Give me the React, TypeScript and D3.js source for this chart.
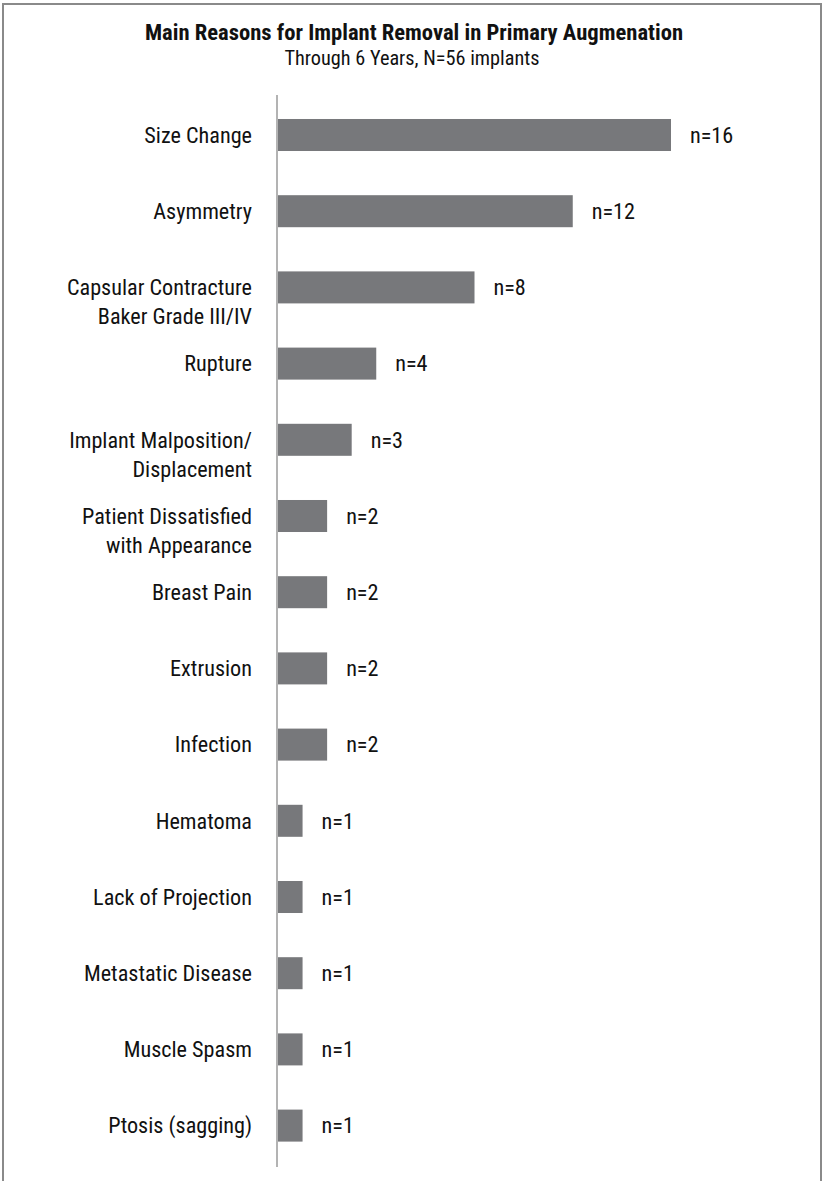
import React from "react";
import * as d3 from "d3";

const categories: string[][] = [
  ["Size Change"],
  ["Asymmetry"],
  ["Capsular Contracture", "Baker Grade III/IV"],
  ["Rupture"],
  ["Implant Malposition/", "Displacement"],
  ["Patient Dissatisfied", "with Appearance"],
  ["Breast Pain"],
  ["Extrusion"],
  ["Infection"],
  ["Hematoma"],
  ["Lack of Projection"],
  ["Metastatic Disease"],
  ["Muscle Spasm"],
  ["Ptosis (sagging)"],
];
const values: number[] = [16, 12, 8, 4, 3, 2, 2, 2, 2, 1, 1, 1, 1, 1];
const valueLabels: string[] = values.map((v) => `n=${v}`);
const title = "Main Reasons for Implant Removal in Primary Augmenation";
const subtitle = "Through 6 Years, N=56 implants";

const W = 824;
const H = 1181;
const FONT = "'Liberation Sans Narrow', 'Arial Narrow', 'Roboto Condensed', sans-serif";

export default function App() {
  const keys = categories.map((c) => c.join(" "));
  const y = d3
    .scaleBand<string>()
    .domain(keys)
    .range([96.9, 1163.7])
    .paddingInner(0.58)
    .paddingOuter(0.29);
  const x = d3.scaleLinear().domain([0, 16]).range([278, 671]);
  const bw = y.bandwidth();

  return (
    <svg
      width={W}
      height={H}
      style={{ position: "absolute", left: 0, top: 0, background: "#fff" }}
      fontFamily={FONT}
    >
      <rect x={3} y={4} width={818} height={1200} fill="none" stroke="#8a8a8a" strokeWidth={2} />
      <text x={414} y={40} textAnchor="middle" fontSize={22.6} fontWeight="bold" fill="#111">
        {title}
      </text>
      <text x={412} y={65} textAnchor="middle" fontSize={20.3} fill="#111">
        {subtitle}
      </text>
      {categories.map((c, i) => {
        const k = keys[i];
        const cy = (y(k) as number) + bw / 2;
        return (
          <g key={k}>
            <rect x={x(0)} y={y(k)} width={x(values[i]) - x(0)} height={bw} fill="#77787b" />
            {c.map((line, j) => (
              <text
                key={j}
                x={252}
                y={cy + j * 29}
                dy="0.35em"
                textAnchor="end"
                fontSize={22.2}
                fill="#111"
              >
                {line}
              </text>
            ))}
            <text x={x(values[i]) + 19} y={cy} dy="0.35em" fontSize={22.2} fill="#111">
              {valueLabels[i]}
            </text>
          </g>
        );
      })}
      <line x1={277} x2={277} y1={95} y2={1167} stroke="#9a9a9a" strokeWidth={1.5} />
    </svg>
  );
}
